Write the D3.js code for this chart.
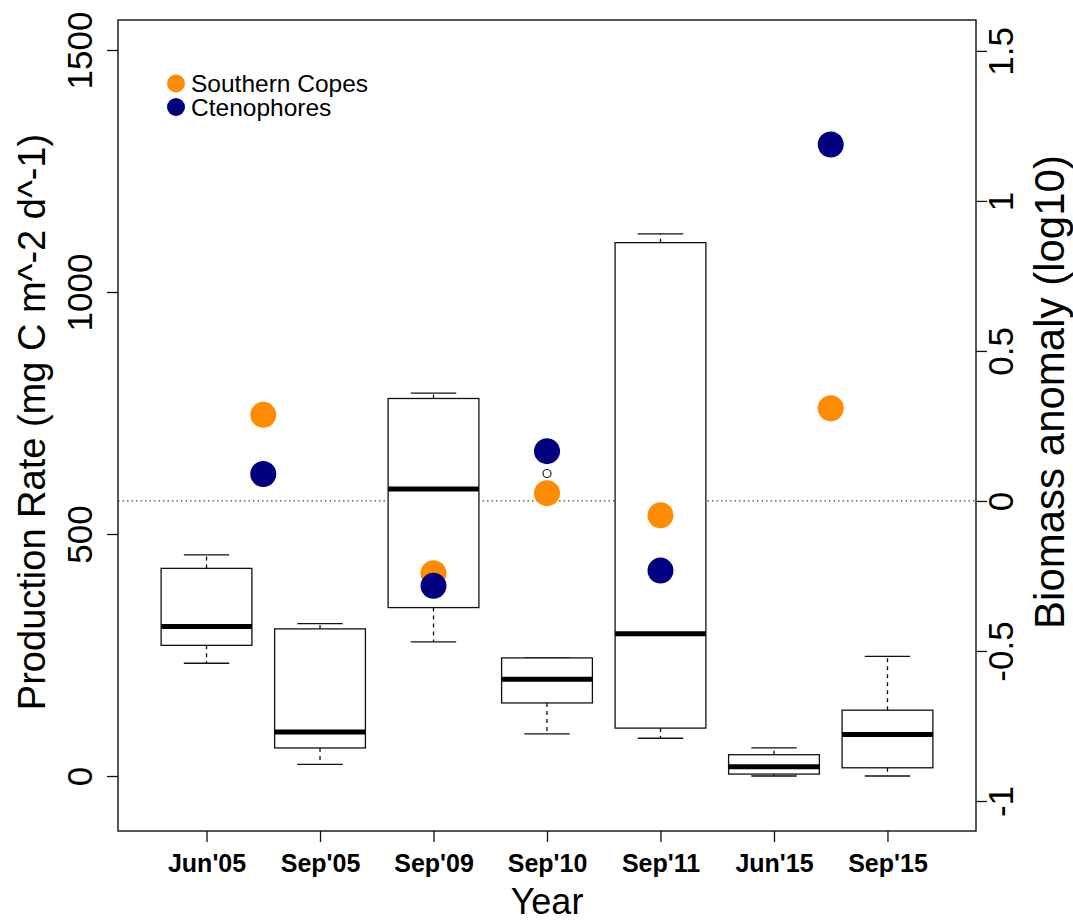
<!DOCTYPE html>
<html>
<head>
<meta charset="utf-8">
<script src="https://cdn.jsdelivr.net/npm/d3@7"></script>
<style>
  html, body { margin: 0; padding: 0; background: #fff; }
  svg { display: block; font-family: "Liberation Sans", Arial, sans-serif; }
</style>
</head>
<body>
<svg id="chart" width="1073" height="922"></svg>
<script>
// Sampling periods on the x axis
const categories = ["Jun'05", "Sep'05", "Sep'09", "Sep'10", "Sep'11", "Jun'15", "Sep'15"];

// Production-rate box statistics (mg C m^-2 d^-1)
const whiskerLow  = [233, 24, 277, 87, 78, 0, 0];
const quartile1   = [270, 58, 348, 151, 99, 4, 17];
const medians     = [309, 91, 593, 200, 294, 19, 86];
const quartile3   = [429, 304, 780, 244, 1102, 44, 136];
const whiskerHigh = [457, 315, 791, 244, 1120, 58, 247];
// Outlying observations: [category index, value]
const outliers = [[3, 625]];

// Biomass anomalies (log10), placed on the category axis
const anomalyPos      = [1.5, 3, 4, 5, 6.5];
const southernCopes   = [0.287, -0.241, 0.026, -0.048, 0.309];
const ctenophores     = [0.090, -0.283, 0.166, -0.232, 1.188];

const leftTicks  = [0, 500, 1000, 1500];
const rightTicks = [-1, -0.5, 0, 0.5, 1, 1.5];
const rightTickLabels = ["-1", "-0.5", "0", "0.5", "1", "1.5"];

const seriesNames  = ["Southern Copes", "Ctenophores"];
const seriesColors = ["#FF8C00", "#000080"];

const svg = d3.select("#chart");
const L = 118, R = 976, T = 20, B = 831;

const x = d3.scaleLinear().domain([0.22, 7.78]).range([L, R]);
const yL = d3.scaleLinear().domain([-113.6, 1562]).range([B, T]);
const yR = d3.scaleLinear().domain([-1.1, 1.603]).range([B, T]);

const boxHalf = 0.4, capHalf = 0.2;

// zero line of the anomaly axis
svg.append("line")
  .attr("x1", L).attr("x2", R)
  .attr("y1", yR(0)).attr("y2", yR(0))
  .attr("stroke", "#444").attr("stroke-width", 1.2)
  .attr("stroke-dasharray", "1.5,3");

// boxplots
const boxes = svg.append("g").selectAll("g")
  .data(categories.map((c, i) => ({
    i: i + 1, lo: whiskerLow[i], q1: quartile1[i], med: medians[i], q3: quartile3[i], hi: whiskerHigh[i]
  })))
  .join("g");

boxes.append("line") // lower whisker
  .attr("x1", d => x(d.i)).attr("x2", d => x(d.i))
  .attr("y1", d => yL(d.q1)).attr("y2", d => yL(d.lo))
  .attr("stroke", "#111").attr("stroke-width", 1.3).attr("stroke-dasharray", "4,4");
boxes.append("line") // upper whisker
  .attr("x1", d => x(d.i)).attr("x2", d => x(d.i))
  .attr("y1", d => yL(d.q3)).attr("y2", d => yL(d.hi))
  .attr("stroke", "#111").attr("stroke-width", 1.3).attr("stroke-dasharray", "4,4");
boxes.append("line") // lower cap
  .attr("x1", d => x(d.i - capHalf)).attr("x2", d => x(d.i + capHalf))
  .attr("y1", d => yL(d.lo)).attr("y2", d => yL(d.lo))
  .attr("stroke", "#111").attr("stroke-width", 1.3);
boxes.append("line") // upper cap
  .attr("x1", d => x(d.i - capHalf)).attr("x2", d => x(d.i + capHalf))
  .attr("y1", d => yL(d.hi)).attr("y2", d => yL(d.hi))
  .attr("stroke", "#111").attr("stroke-width", 1.3);
boxes.append("rect")
  .attr("x", d => x(d.i - boxHalf))
  .attr("width", d => x(d.i + boxHalf) - x(d.i - boxHalf))
  .attr("y", d => yL(d.q3))
  .attr("height", d => yL(d.q1) - yL(d.q3))
  .attr("fill", "#fff").attr("stroke", "#111").attr("stroke-width", 1.3);
boxes.append("line") // median
  .attr("x1", d => x(d.i - boxHalf)).attr("x2", d => x(d.i + boxHalf))
  .attr("y1", d => yL(d.med)).attr("y2", d => yL(d.med))
  .attr("stroke", "#000").attr("stroke-width", 5);

svg.append("g").selectAll("circle")
  .data(outliers).join("circle")
  .attr("cx", d => x(d[0] + 1)).attr("cy", d => yL(d[1]))
  .attr("r", 4).attr("fill", "none").attr("stroke", "#222").attr("stroke-width", 1.2);

// anomaly points
[southernCopes, ctenophores].forEach((vals, s) => {
  svg.append("g").selectAll("circle")
    .data(vals).join("circle")
    .attr("cx", (d, i) => x(anomalyPos[i]))
    .attr("cy", d => yR(d))
    .attr("r", 13)
    .attr("fill", seriesColors[s]);
});

// plot frame
svg.append("rect")
  .attr("x", L).attr("y", T).attr("width", R - L).attr("height", B - T)
  .attr("fill", "none").attr("stroke", "#111").attr("stroke-width", 1.4);

// left axis
const axL = svg.append("g").attr("transform", `translate(${L},0)`)
  .call(d3.axisLeft(yL).tickValues(leftTicks).tickSize(11).tickFormat(d3.format("d")));
axL.select(".domain").remove();
axL.selectAll(".tick line").attr("stroke", "#111").attr("stroke-width", 1.3);
axL.selectAll(".tick text")
  .attr("transform", "rotate(-90)").attr("x", 0).attr("y", -26).attr("dy", null)
  .attr("text-anchor", "middle").attr("fill", "#000")
  .style("font-size", "35px").style("font-family", "Liberation Sans, Arial, sans-serif");

// right axis
const axR = svg.append("g").attr("transform", `translate(${R},0)`)
  .call(d3.axisRight(yR).tickValues(rightTicks).tickSize(11)
    .tickFormat((d, i) => rightTickLabels[i]));
axR.select(".domain").remove();
axR.selectAll(".tick line").attr("stroke", "#111").attr("stroke-width", 1.3);
axR.selectAll(".tick text")
  .attr("transform", "rotate(-90)").attr("x", 0).attr("y", 37).attr("dy", null)
  .attr("text-anchor", "middle").attr("fill", "#000")
  .style("font-size", "35px").style("font-family", "Liberation Sans, Arial, sans-serif");

// bottom axis
const axB = svg.append("g").attr("transform", `translate(0,${B})`)
  .call(d3.axisBottom(x).tickValues(d3.range(1, categories.length + 1)).tickSize(11)
    .tickFormat(d => categories[d - 1]));
axB.select(".domain").remove();
axB.selectAll(".tick line").attr("stroke", "#111").attr("stroke-width", 1.3);
axB.selectAll(".tick text")
  .attr("y", 41).attr("dy", null).attr("fill", "#000")
  .style("font-size", "25px").style("font-weight", "bold")
  .style("font-family", "Liberation Sans, Arial, sans-serif");

// axis titles
svg.append("text")
  .attr("transform", "translate(45,422) rotate(-90)")
  .attr("text-anchor", "middle").style("font-size", "38px")
  .text("Production Rate (mg C m^-2 d^-1)");
svg.append("text")
  .attr("transform", "translate(1064,392) rotate(-90)")
  .attr("text-anchor", "middle").style("font-size", "42px")
  .text("Biomass anomaly (log10)");
svg.append("text")
  .attr("x", (L + R) / 2).attr("y", 914)
  .attr("text-anchor", "middle").style("font-size", "36px")
  .text("Year");

// legend
const legend = svg.append("g").selectAll("g")
  .data(seriesNames).join("g")
  .attr("transform", (d, i) => `translate(176,${83.5 + i * 23.5})`);
legend.append("circle").attr("r", 9).attr("fill", (d, i) => seriesColors[i]);
legend.append("text").attr("x", 15).attr("y", 8.5)
  .style("font-size", "24.5px").text(d => d);
</script>
</body>
</html>
